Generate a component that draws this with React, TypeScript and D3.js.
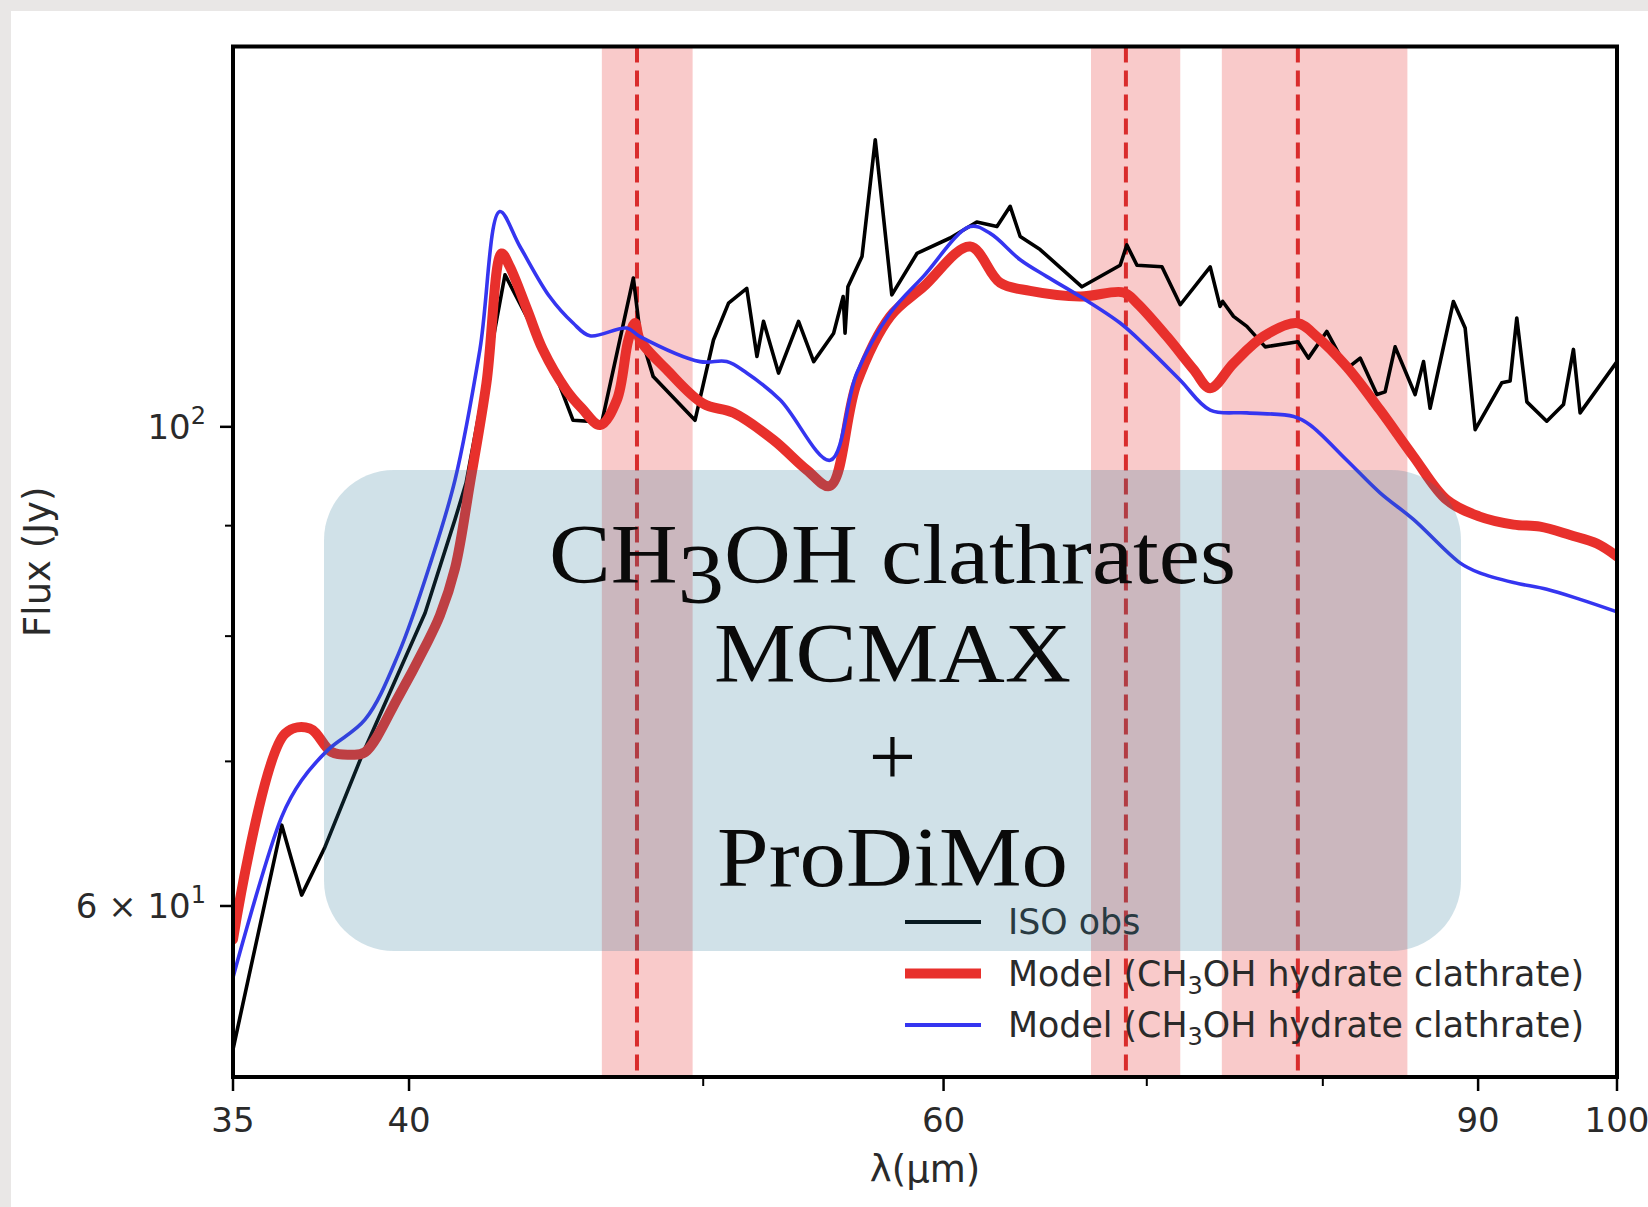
import React, { useRef, useEffect } from 'react';
import * as d3 from 'd3';

// ISO observed spectrum (wavelength in micron, flux in Jy)
const isoLambda = [35.0, 36.32, 36.87, 37.53, 38.59, 40.49, 41.42, 41.77, 42.73, 43.02, 43.8, 44.5, 45.3, 46.3, 47.42, 47.66, 48.14, 49.69, 50.39, 50.97, 51.68, 52.08, 52.34, 52.94, 53.75, 54.37, 55.2, 55.6, 55.68, 55.8, 56.4, 56.97, 57.69, 58.8, 60.3, 61.53, 62.48, 63.11, 63.59, 64.56, 66.64, 68.6, 68.95, 69.48, 70.81, 71.8, 73.45, 74.0, 74.15, 74.76, 75.52, 76.58, 78.5, 79.13, 80.24, 81.47, 82.3, 83.35, 83.87, 84.51, 85.8, 86.35, 86.78, 88.33, 89.12, 89.8, 91.63, 92.21, 92.68, 93.39, 94.81, 96.02, 96.75, 97.24, 100];
const isoFlux = [51.5, 65.4, 60.7, 63.9, 70.4, 82.0, 90.6, 94.2, 111.7, 117.6, 112.0, 107.5, 100.7, 100.5, 117.2, 110.5, 105.5, 100.7, 109.7, 114.1, 115.9, 107.8, 111.9, 105.9, 111.9, 107.2, 110.5, 114.9, 110.5, 116.1, 119.9, 135.8, 115.1, 120.3, 122.3, 124.4, 123.8, 126.5, 122.5, 120.8, 116.1, 118.8, 121.4, 118.8, 118.6, 113.9, 118.6, 113.7, 114.3, 112.5, 111.3, 108.9, 109.5, 107.6, 110.7, 106.4, 107.6, 103.5, 103.8, 108.9, 103.5, 107.2, 102.0, 114.3, 111.1, 99.7, 104.8, 105.0, 112.3, 102.7, 100.6, 102.4, 108.6, 101.5, 107.2];

// model, thick red
const redLambda = [35.0, 36.41, 37.1, 37.72, 38.3, 38.69, 39.68, 40.49, 40.95, 41.42, 41.9, 42.42, 42.91, 43.18, 43.75, 44.27, 45.07, 45.6, 46.24, 46.83, 47.24, 47.48, 47.66, 48.63, 50.0, 51.16, 52.74, 54.09, 55.05, 56.18, 57.62, 59.09, 61.22, 62.63, 64.07, 66.55, 68.78, 69.48, 71.08, 72.53, 73.45, 74.76, 76.47, 78.44, 79.63, 81.47, 83.55, 85.69, 87.89, 90.06, 92.45, 94.33, 96.51, 98.48, 100];
const redFlux = [57.9, 72.1, 72.5, 70.7, 70.5, 70.7, 75.0, 79.1, 81.8, 86.0, 94.3, 104.8, 120.3, 118.6, 113.3, 108.6, 104.0, 102.0, 100.2, 102.9, 109.7, 111.7, 109.7, 106.3, 102.5, 101.5, 98.6, 95.5, 93.9, 104.8, 112.5, 116.1, 121.2, 116.6, 115.6, 114.9, 115.4, 114.1, 110.1, 106.3, 104.2, 107.0, 110.1, 111.7, 110.1, 106.6, 101.8, 96.9, 92.5, 90.9, 90.1, 89.9, 89.1, 88.3, 87.1];

// model, thin blue
const blueLambda = [35.0, 36.32, 36.87, 37.63, 38.69, 39.68, 40.69, 41.42, 42.21, 42.85, 43.51, 44.5, 45.3, 45.88, 47.18, 47.66, 49.88, 50.9, 51.68, 53.01, 55.05, 56.18, 57.62, 59.09, 61.22, 62.16, 63.59, 64.87, 66.55, 68.6, 69.99, 71.8, 73.45, 75.52, 78.25, 79.23, 81.47, 83.55, 85.69, 88.77, 90.06, 92.45, 94.81, 97.24, 100];
const blueFlux = [55.6, 66.0, 68.6, 70.9, 73.2, 78.5, 86.8, 94.5, 108.6, 125.8, 121.2, 114.9, 111.7, 110.2, 111.1, 110.1, 107.2, 107.2, 105.9, 102.9, 96.5, 105.9, 112.9, 117.4, 123.8, 122.9, 119.5, 117.4, 114.9, 111.7, 108.9, 105.1, 101.8, 101.5, 101.1, 100.2, 96.5, 93.2, 90.6, 86.5, 85.6, 84.7, 84.1, 83.2, 82.1];

// clathrate bands
const bandStart = [46.3, 67.1, 74.1];
const bandEnd = [49.6, 71.8, 85.3];
const bandCenter = [47.55, 68.9, 78.5];

const xTicks = [35, 40, 60, 90, 100];
const xMinorTicks = [50, 70, 80];
const yTicks = [60, 100];
const yMinorTicks = [70, 80, 90];
const yTickMantissa = ['6 \u00d7 10', '10'];
const yTickExp = ['1', '2'];

const legendLabels = ['ISO obs', 'Model (CH3OH hydrate clathrate)', 'Model (CH3OH hydrate clathrate)'];
const legendColors = ['#000000', '#e8302c', '#3535f0'];
const legendWidths = [4, 10, 4];

const boxLines = ['CH3OH clathrates', 'MCMAX', '+', 'ProDiMo'];

const W = 1648;
const H = 1207;
const left = 233, right = 1617, top = 46.5, bottom = 1077;
const sansFont = "'DejaVu Sans', sans-serif";
const textGray = '#2a2a2a';

// write a label, turning the "3" of CH3OH into a subscript / old style figure
const withThree = (sel, label, dy, size) => {
  const i = label.indexOf('CH3OH');
  if (i < 0) {
    sel.text(label);
    return;
  }
  sel.append('tspan').text(label.slice(0, i + 2));
  sel.append('tspan').attr('dy', dy).attr('font-size', size).text('3');
  sel.append('tspan').attr('dy', -dy).text(label.slice(i + 3));
};

const App = () => {
  const ref = useRef(null);

  useEffect(() => {
    const svg = d3.select(ref.current);
    svg.selectAll('*').remove();

    const x = d3.scaleLog().domain([35, 100]).range([left, right]);
    const y = d3.scaleLog().domain([50, 150]).range([bottom, top]);

    // page background
    svg.append('rect').attr('width', W).attr('height', H).attr('fill', '#e9e7e6');
    svg.append('rect').attr('x', 11).attr('y', 11).attr('width', W - 11).attr('height', H - 11).attr('fill', '#ffffff');

    svg.append('clipPath').attr('id', 'plotclip')
      .append('rect').attr('x', left).attr('y', top).attr('width', right - left).attr('height', bottom - top);

    const plot = svg.append('g').attr('clip-path', 'url(#plotclip)');

    plot.selectAll('rect.band')
      .data(bandStart)
      .enter()
      .append('rect')
      .attr('class', 'band')
      .attr('x', (d) => x(d))
      .attr('width', (d, i) => x(bandEnd[i]) - x(d))
      .attr('y', top)
      .attr('height', bottom - top)
      .attr('fill', '#f08080')
      .attr('fill-opacity', 0.42);

    plot.selectAll('line.center')
      .data(bandCenter)
      .enter()
      .append('line')
      .attr('x1', (d) => x(d))
      .attr('x2', (d) => x(d))
      .attr('y1', top)
      .attr('y2', bottom)
      .attr('stroke', '#d92c2c')
      .attr('stroke-width', 4)
      .attr('stroke-dasharray', '16 8');

    const smooth = d3.curveCatmullRom.alpha(0.5);
    const series = [
      { lam: isoLambda, flux: isoFlux, color: '#000000', width: 3.6, curve: d3.curveLinear },
      { lam: redLambda, flux: redFlux, color: '#e8302c', width: 10, curve: smooth },
      { lam: blueLambda, flux: blueFlux, color: '#3535f0', width: 3.6, curve: smooth }
    ];

    series.forEach((s) => {
      const line = d3.line()
        .x((d, i) => x(s.lam[i]))
        .y((d) => y(d))
        .curve(s.curve);
      plot.append('path')
        .attr('d', line(s.flux))
        .attr('fill', 'none')
        .attr('stroke', s.color)
        .attr('stroke-width', s.width)
        .attr('stroke-linejoin', 'round')
        .attr('stroke-linecap', 'round');
    });

    // frame
    svg.append('rect')
      .attr('x', left).attr('y', top)
      .attr('width', right - left).attr('height', bottom - top)
      .attr('fill', 'none').attr('stroke', '#000').attr('stroke-width', 4);

    // x ticks
    const xAxis = svg.append('g');
    xTicks.forEach((t) => {
      xAxis.append('line').attr('x1', x(t)).attr('x2', x(t)).attr('y1', bottom).attr('y2', bottom + 14)
        .attr('stroke', '#000').attr('stroke-width', 2.5);
      xAxis.append('text').attr('x', x(t)).attr('y', bottom + 55)
        .attr('text-anchor', 'middle').attr('font-family', sansFont).attr('font-size', 34)
        .attr('fill', textGray).text(t);
    });
    xMinorTicks.forEach((t) => {
      xAxis.append('line').attr('x1', x(t)).attr('x2', x(t)).attr('y1', bottom).attr('y2', bottom + 9)
        .attr('stroke', '#000').attr('stroke-width', 2);
    });

    // y ticks
    const yAxis = svg.append('g');
    yTicks.forEach((t, i) => {
      yAxis.append('line').attr('x1', left - 13).attr('x2', left).attr('y1', y(t)).attr('y2', y(t))
        .attr('stroke', '#000').attr('stroke-width', 2.5);
      const label = yAxis.append('text').attr('x', left - 27).attr('y', y(t) + 12)
        .attr('text-anchor', 'end').attr('font-family', sansFont).attr('font-size', 34)
        .attr('fill', textGray);
      label.append('tspan').text(yTickMantissa[i]);
      label.append('tspan').attr('dy', -15).attr('font-size', 24).text(yTickExp[i]);
    });
    yMinorTicks.forEach((t) => {
      yAxis.append('line').attr('x1', left - 8).attr('x2', left).attr('y1', y(t)).attr('y2', y(t))
        .attr('stroke', '#000').attr('stroke-width', 2);
    });

    // axis labels
    svg.append('text')
      .attr('x', (left + right) / 2).attr('y', 1182)
      .attr('text-anchor', 'middle').attr('font-family', sansFont).attr('font-size', 37)
      .attr('fill', textGray).text('\u03bb(\u03bcm)');
    svg.append('text')
      .attr('transform', `translate(50,${(top + bottom) / 2}) rotate(-90)`)
      .attr('text-anchor', 'middle').attr('font-family', sansFont).attr('font-size', 37)
      .attr('fill', textGray).text('Flux (Jy)');

    // legend
    const legend = svg.append('g');
    legendLabels.forEach((label, i) => {
      const ly = 922 + i * 51.5;
      legend.append('line').attr('x1', 905).attr('x2', 981).attr('y1', ly).attr('y2', ly)
        .attr('stroke', legendColors[i]).attr('stroke-width', legendWidths[i]);
      const txt = legend.append('text').attr('x', 1008).attr('y', ly + 12)
        .attr('font-family', sansFont).attr('font-size', 34.8).attr('fill', textGray);
      withThree(txt, label, 8, 24);
    });

    // overlay box with the model name
    svg.append('rect')
      .attr('x', 324).attr('y', 470).attr('width', 1137).attr('height', 481)
      .attr('rx', 70).attr('ry', 70)
      .attr('fill', 'rgb(40,120,150)').attr('fill-opacity', 0.22);

    const boxBase = [583, 682, 785, 886];
    const boxLen = [687, 357, 0, 351];
    boxLines.forEach((label, i) => {
      const t = svg.append('text')
        .attr('x', 892.5).attr('y', boxBase[i])
        .attr('text-anchor', 'middle')
        .attr('font-family', "'Liberation Serif', serif")
        .attr('font-size', 84)
        .attr('fill', '#0a0a0a');
      if (boxLen[i] > 0) t.attr('textLength', boxLen[i]).attr('lengthAdjust', 'spacingAndGlyphs');
      withThree(t, label, 20, 84);
    });
  }, []);

  return (
    <svg ref={ref} width={W} height={H} style={{ position: 'absolute', left: 0, top: 0, display: 'block' }}></svg>
  );
};

export default App;
